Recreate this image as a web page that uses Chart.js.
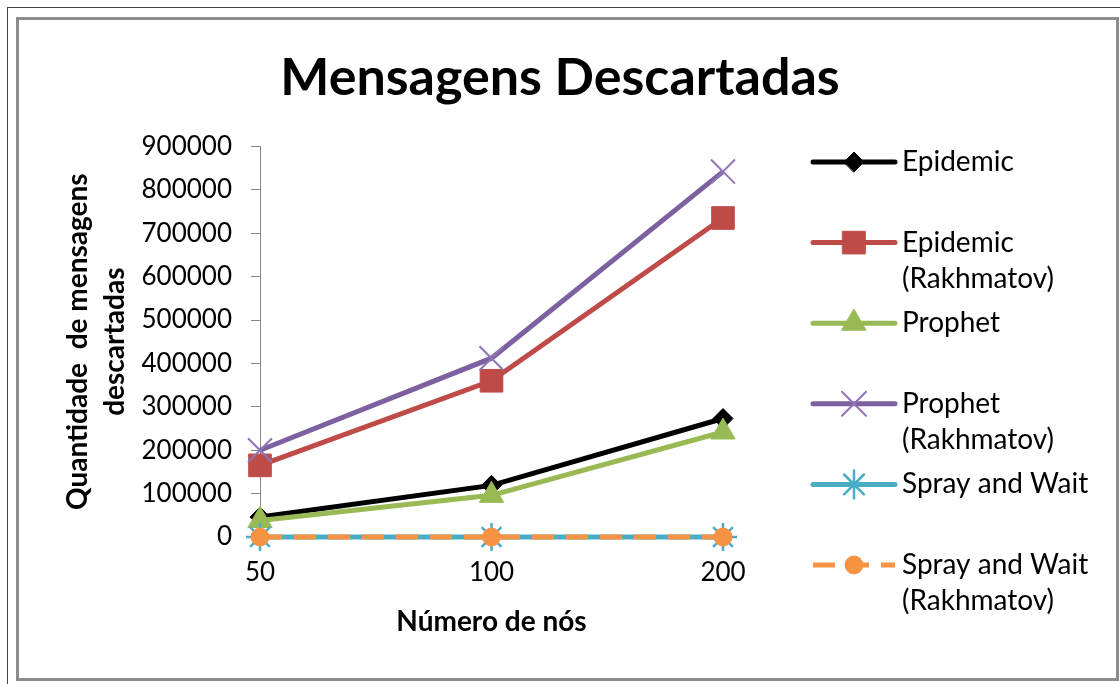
<!DOCTYPE html>
<html>
<head>
<meta charset="utf-8">
<title>Mensagens Descartadas</title>
<script src="https://cdn.jsdelivr.net/npm/chart.js@4.4.1/dist/chart.umd.min.js"></script>
<style>
  body { margin: 0; background: #fff; }
  #wrap { position: relative; width: 1120px; height: 684px; overflow: hidden; }
  #outer { position: absolute; left: 7px; top: 7px; width: 1200px; height: 800px; border-left: 1px solid #444; border-top: 1px solid #444; }
  #frame { position: absolute; left: 16px; top: 17px; width: 1097px; height: 658px; border: 3px solid #8c8c8c; }
  #moneyCanvas { position: absolute; left: 0; top: 0; }
</style>
</head>
<body>
<div id="wrap">
  <div id="outer"></div>
  <div id="frame"></div>
  <canvas id="moneyCanvas" width="1120" height="684"></canvas>
</div>
<script>
"use strict"

//Number of nodes (x categories)
const nodeLabels = ['50', '100', '200'];

//Discarded messages
const epidemic = [46000, 119000, 273000];
const epidemicRakhmatov = [165000, 360000, 735000];
const prophet = [38000, 96000, 242000];
const prophetRakhmatov = [200000, 412000, 842000];
const sprayAndWait = [0, 0, 0];
const sprayAndWaitRakhmatov = [0, 0, 0];

//Y ticks
const yMin = 0;
const yMax = 900000;
const yStep = 100000;


//Builds one line dataset
function MakeLine(label, data, color, marker, order) {
    return {
        label: label,
        data: data,
        yAxisID: 'y',
        borderColor: color,
        backgroundColor: color,
        borderWidth: 5,
        tension: 0,
        clip: false,
        pointStyle: marker.style,
        pointRadius: marker.radius,
        pointBackgroundColor: marker.fill || color,
        pointBorderColor: marker.stroke || color,
        pointBorderWidth: marker.width || 1,
        borderDash: marker.dash || [],
        order: order
    };
};


const exLines = [
    MakeLine('Epidemic', epidemic, '#000000', { style: 'rectRot', radius: 10 }, 6),
    MakeLine('Epidemic (Rakhmatov)', epidemicRakhmatov, '#BE4B48', { style: 'rect', radius: 16 }, 5),
    MakeLine('Prophet', prophet, '#98B954', { style: 'triangle', radius: 14 }, 4),
    MakeLine('Prophet (Rakhmatov)', prophetRakhmatov, '#7D60A0', { style: 'crossRot', radius: 17, stroke: '#8F75B5', width: 2 }, 3),
    MakeLine('Spray and Wait', sprayAndWait, '#4AACC5', { style: 'star', radius: 14, width: 2.5 }, 2),
    MakeLine('Spray and Wait (Rakhmatov)', sprayAndWaitRakhmatov, '#F59342', { style: 'circle', radius: 9, dash: [22, 12] }, 1)
];


//Legend on the right side, Excel style (line + marker, wrapped names)
const sideLegend = {
    id: 'sideLegend',
    afterDraw(chart) {
        const ctx = chart.ctx;
        ctx.save();
        chart.data.datasets.forEach(function (ds, i) {
            const y = 162 + i * 80.6;

            ctx.save();
            ctx.strokeStyle = ds.borderColor;
            ctx.lineWidth = ds.borderWidth;
            ctx.lineCap = ds.borderDash.length ? 'butt' : 'round';
            ctx.setLineDash(ds.borderDash);
            ctx.beginPath();
            ctx.moveTo(813, y);
            ctx.lineTo(895, y);
            ctx.stroke();
            ctx.setLineDash([]);

            ctx.fillStyle = ds.pointBackgroundColor;
            ctx.strokeStyle = ds.pointBorderColor;
            ctx.lineWidth = ds.pointBorderWidth;
            Chart.helpers.drawPoint(ctx, {
                pointStyle: ds.pointStyle,
                radius: ds.pointRadius,
                rotation: 0,
                borderWidth: ds.pointBorderWidth
            }, 854, y);
            ctx.restore();

            //split "Name (Rakhmatov)" in two lines
            const lines = ds.label.split(' (');
            ctx.font = '28px Lato';
            ctx.fillStyle = '#000';
            ctx.textBaseline = 'middle';
            ctx.textAlign = 'left';
            lines.forEach(function (txt, k) {
                ctx.fillText(k > 0 ? '(' + txt : txt, 902, y + k * 36);
            });
        });
        ctx.restore();
    }
};


const graphData = {
    labels: nodeLabels,
    datasets: exLines
};

const config = {
    type: 'line',
    data: graphData,
    plugins: [sideLegend],
    options: {
        responsive: false,
        animation: false,
        layout: {
            padding: 0
        },
        plugins: {
            legend: { display: false },
            tooltip: { enabled: false },
            title: {
                display: true,
                text: 'Mensagens Descartadas',
                color: '#000',
                font: { family: 'Lato', size: 52, weight: 'bold', lineHeight: 1.2 },
                padding: { top: 47, bottom: 37 }
            }
        },
        scales: {
            x: {
                offset: false,
                grid: { display: true, drawOnChartArea: false, drawTicks: true, tickLength: 6, color: '#868686' },
                border: { color: '#868686', width: 1 },
                ticks: { color: '#000', padding: 14, font: { family: 'Lato', size: 26 } },
                title: {
                    display: true,
                    text: 'Número de nós',
                    color: '#000',
                    font: { family: 'Lato', size: 28, weight: 'bold', lineHeight: 1.2 },
                    padding: { top: 0, bottom: 45 }
                },
                afterFit(scale) { scale.height = 147; }
            },
            y: {
                min: yMin,
                max: yMax,
                grid: { display: true, drawOnChartArea: false, drawTicks: true, tickLength: 9, color: '#868686' },
                border: { color: '#868686', width: 1 },
                ticks: {
                    stepSize: yStep,
                    color: '#000',
                    padding: 19,
                    font: { family: 'Lato', size: 26 },
                    callback: function (v) { return String(v); }
                },
                title: {
                    display: true,
                    text: ['Quantidade  de mensagens', 'descartadas'],
                    color: '#000',
                    font: { family: 'Lato', size: 28, weight: 'bold', lineHeight: 1.3 },
                    padding: { top: 60, bottom: 0 }
                },
                afterFit(scale) { scale.width = 260; }
            },
            //empty axis on the right that keeps room for the legend
            yLegendRoom: {
                position: 'right',
                display: true,
                grid: { display: false },
                border: { display: false },
                ticks: { display: false },
                afterFit(scale) { scale.width = 397; }
            }
        }
    }
};

const myChart = new Chart(
    document.getElementById('moneyCanvas'),
    config
);
</script>
</body>
</html>
